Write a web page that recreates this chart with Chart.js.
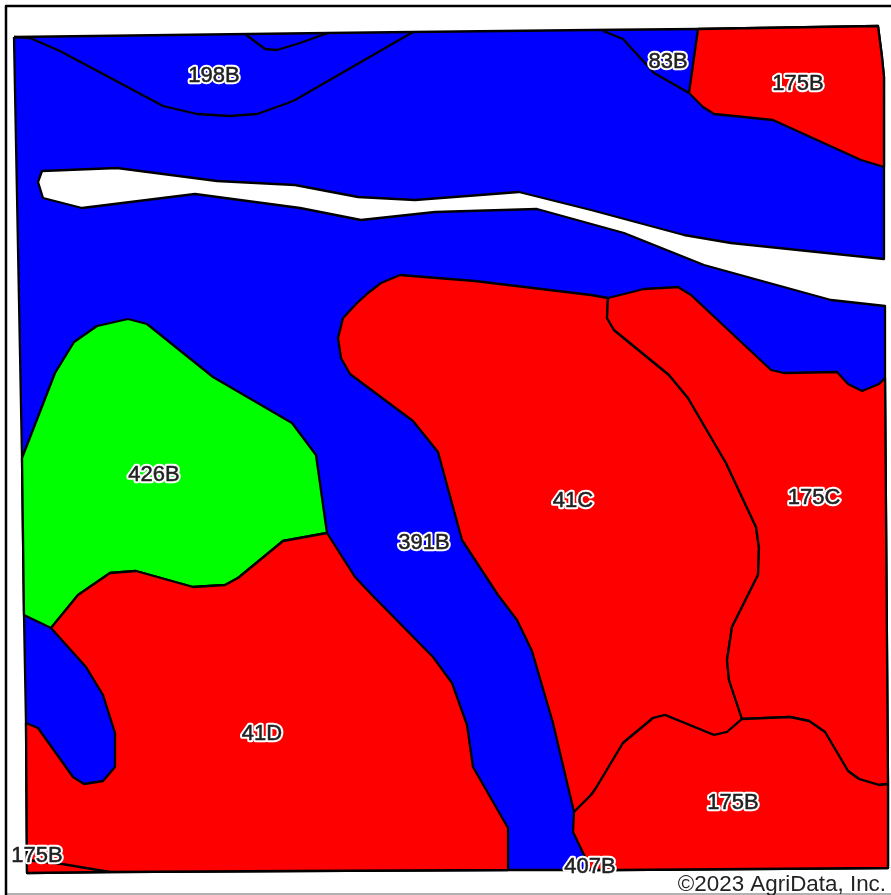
<!DOCTYPE html>
<html>
<head>
<meta charset="utf-8">
<title>Soils map</title>
<script src="https://cdn.jsdelivr.net/npm/chart.js@4"></script>
<style>
    html, body { margin: 0; padding: 0; background: #fff; overflow: hidden; }
    canvas { display: block; }
</style>
</head>
<body>
<canvas id="soilMap" width="891" height="895"></canvas>
<script>
// Map units (x, y in image pixels)
const field391B = [[14,37],[328,33],[413,32],[591,30],[698,29],[878,26],[882,57],[884,77],[884,167],[884,259],
    [731,243],[684,235],[591,210],[519,192],[415,200],[358,197],[295,185],[217,181],[117,168],[42,171],[38,182],[43,198],[82,208],
    [195,194],[300,208],[361,220],[435,212],[537,209],[595,225],[624,233],[704,265],[831,300],[885,306],
    [885,378],[888,784],[888,868],[616,870],[508,870],[295,871],[110,872],[27,873],[26,723],[24,615],[22,458],[14,37]];
const field175BNorth = [[698,29],[878,26],[882,57],[884,77],[884,167],[861,160],[773,120],[714,114],[703,107],[689,93],[698,29]];
const field426B = [[22,458],[55,373],[74,342],[97,326],[128,319],[147,324],[213,377],[292,423],[316,455],[327,533],
    [283,541],[238,578],[225,585],[193,587],[136,571],[110,573],[78,595],[51,628],[24,615],[22,458]];
const field41D = [[51,628],[78,595],[110,573],[136,571],[193,587],[225,585],[238,578],[283,541],[327,533],[355,577],[372,595],
    [433,657],[452,683],[467,725],[473,767],[508,828],[508,870],[295,871],[110,872],[27,873],[26,723],[38,728],[73,777],[84,784],
    [103,781],[115,767],[115,733],[103,695],[86,667],[51,628]];
const field41C = [[400,275],[475,281],[591,295],[608,298],[607,318],[614,330],[669,375],[688,398],[726,463],[756,527],[759,548],
    [758,575],[748,595],[732,627],[727,660],[729,680],[742,719],[727,732],[714,735],[665,715],[653,718],[623,743],[596,788],[591,795],
    [574,812],[553,723],[532,651],[517,620],[498,595],[462,540],[438,452],[413,421],[350,374],[341,358],[338,338],[343,318],[357,303],
    [368,293],[381,283],[400,275]];
const field175C = [[608,298],[644,289],[678,287],[691,295],[771,370],[784,373],[837,372],[848,384],[862,391],[879,384],[885,378],
    [888,784],[879,785],[859,779],[848,771],[825,732],[809,721],[790,717],[742,719],[729,680],[727,660],[732,627],[748,595],[758,575],
    [759,548],[756,527],[726,463],[688,398],[669,375],[614,330],[607,318],[608,298]];
const field175BSouth = [[574,812],[591,795],[596,788],[623,743],[653,718],[665,715],[714,735],[727,732],[742,719],[790,717],[809,721],
    [825,732],[848,771],[859,779],[879,785],[888,784],[888,868],[616,870],[590,870],[585,857],[573,832],[574,812]];

// Boundaries between units of the same colour
const line198B = [[14,37],[30,38],[60,51],[163,106],[197,114],[230,116],[257,114],[288,103],[295,100],[413,32]];
const line198BTop = [[245,34],[265,49],[277,50],[300,43],[328,33]];
const line83B = [[603,31],[623,39],[654,73],[689,93]];
const line175BCorner = [[110,872],[62,864],[27,860]];

const frameBlack = [[6,895],[6,6],[891,6]];
const frameGrey = [[6,894],[891,894]];

const labelNames = ['198B','83B','175B','426B','391B','41C','175C','41D','175B','175B','407B'];
const labelX = [214,668,798,154,424,573,814,262,733,37,590];
const labelY = [76,62,84,475,543,501,498,734,803,856,867];
const copyright = '©2023 AgriData, Inc.';

const BLUE = '#0000ff', RED = '#ff0000', GREEN = '#00ff00';

function toPoints(list) {
    return list.map(p => ({ x: p[0], y: p[1] }));
}

function area(list, color) {
    return { data: toPoints(list), showLine: true, fill: 'shape', backgroundColor: color, borderColor: '#000', borderWidth: 2.3, pointRadius: 0, borderJoinStyle: 'round' };
}

function edge(list, color, width) {
    return { data: toPoints(list), showLine: true, fill: false, borderColor: color || '#000', borderWidth: width || 2.3, pointRadius: 0, borderJoinStyle: 'round' };
}

// bottom of the list is painted first
const layers = [
    edge(frameBlack, '#000', 2.5),
    edge(frameGrey, '#999', 1.5),
    edge(line175BCorner),
    edge(line83B),
    edge(line198BTop),
    edge(line198B),
    area(field175BSouth, RED),
    area(field175C, RED),
    area(field41C, RED),
    area(field41D, RED),
    area(field426B, GREEN),
    area(field175BNorth, RED),
    area(field391B, BLUE)
];
layers.forEach((d, i) => { d.order = i; });

const mapText = {
    id: 'mapText',
    afterDatasetsDraw(chart) {
        const ctx = chart.ctx;
        const xs = chart.scales.x, ys = chart.scales.y;
        ctx.save();
        ctx.font = '22px "Liberation Sans", Arial, sans-serif';
        ctx.textAlign = 'center';
        ctx.textBaseline = 'middle';
        ctx.lineJoin = 'round';
        labelNames.forEach((name, i) => {
            const px = xs.getPixelForValue(labelX[i]);
            const py = ys.getPixelForValue(labelY[i]);
            ctx.lineWidth = 4.5;
            ctx.strokeStyle = '#fff';
            ctx.strokeText(name, px, py);
            ctx.fillStyle = '#222';
            ctx.fillText(name, px, py);
            ctx.lineWidth = 0.5;
            ctx.strokeStyle = '#222';
            ctx.strokeText(name, px, py);
        });
        ctx.font = '22.4px "Liberation Sans", Arial, sans-serif';
        ctx.textAlign = 'right';
        ctx.textBaseline = 'alphabetic';
        ctx.fillStyle = '#222';
        ctx.fillText(copyright, xs.getPixelForValue(886), ys.getPixelForValue(891));
        ctx.restore();
    }
};

new Chart(document.getElementById('soilMap').getContext('2d'), {
    type: 'scatter',
    data: { datasets: layers },
    options: {
        responsive: false,
        animation: false,
        layout: { padding: 0 },
        elements: { line: { tension: 0 } },
        plugins: { legend: { display: false }, tooltip: { enabled: false } },
        scales: {
            x: { type: 'linear', min: 0, max: 891, display: false },
            y: { type: 'linear', min: 0, max: 895, reverse: true, display: false }
        }
    },
    plugins: [mapText]
});
</script>
</body>
</html>
